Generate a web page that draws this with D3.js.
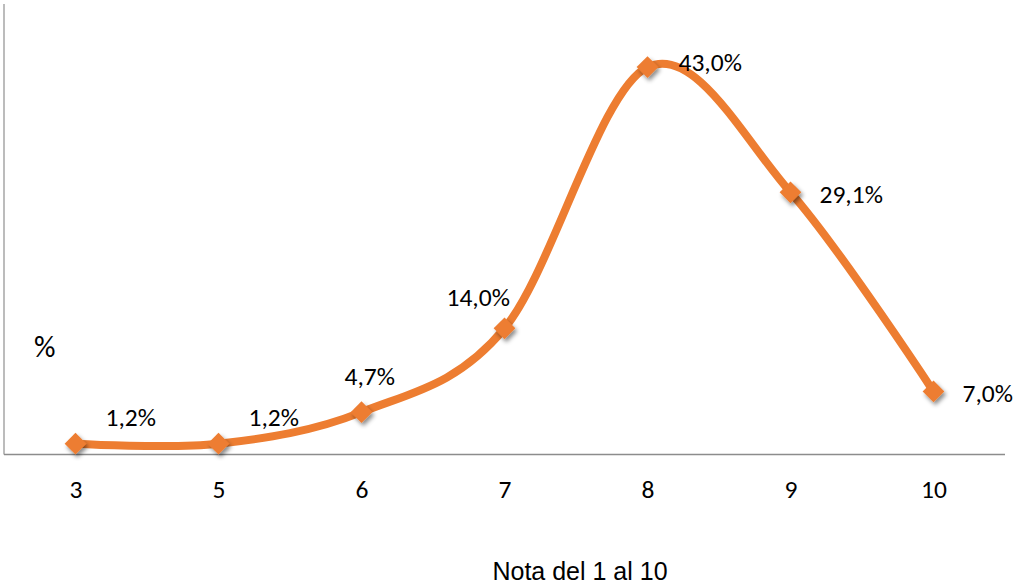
<!DOCTYPE html>
<html>
<head>
<meta charset="utf-8">
<script src="https://cdn.jsdelivr.net/npm/d3@7"></script>
<style>
  html, body { margin: 0; padding: 0; background: #fff; }
  svg { display: block; }
  .lbl { font-family: Carlito, Lato, "Open Sans", sans-serif; font-size: 25.5px; fill: #000; }
  .axis-title { font-family: "Liberation Sans", Arial, sans-serif; font-size: 25px; fill: #000; }
</style>
</head>
<body>
<svg id="chart" width="1014" height="586"></svg>
<script>
// Grades (1 to 10 scale) and share of responses in percent
const categories = ["3", "5", "6", "7", "8", "9", "10"];
const values = [1.2, 1.2, 4.7, 14.0, 43.0, 29.1, 7.0];
const valueLabels = ["1,2%", "1,2%", "4,7%", "14,0%", "43,0%", "29,1%", "7,0%"];
// Where each data label sits relative to its marker
const labelPlacement = ["aboveRight", "aboveRight", "above", "aboveLeft", "rightHigh", "right", "right"];
const yAxisLabel = "%";
const xAxisTitle = "Nota del 1 al 10";

const svg = d3.select("#chart");
const plot = { left: 4, right: 1005, top: 4, bottom: 454.5 };
const orange = "#ED7D31";

const x = d3.scalePoint().domain(categories).range([plot.left, plot.right]).padding(0.5);
const y = d3.scaleLinear().domain([0, 50]).range([plot.bottom, plot.top]);

// Soft drop shadow under the markers
const defs = svg.append("defs");
const f = defs.append("filter").attr("id", "mshadow")
  .attr("x", "-50%").attr("y", "-50%").attr("width", "200%").attr("height", "200%");
f.append("feDropShadow").attr("dx", 2).attr("dy", 3).attr("stdDeviation", 2)
  .attr("flood-color", "#000").attr("flood-opacity", 0.45);

// Axes: plain gray lines, no ticks
svg.append("line")
  .attr("x1", plot.left).attr("x2", plot.left)
  .attr("y1", plot.top).attr("y2", plot.bottom)
  .attr("stroke", "#a6a6a6").attr("stroke-width", 1.5);

const xAxis = d3.axisBottom(x).tickSize(0).tickPadding(35);
const gx = svg.append("g").attr("transform", `translate(0,${plot.bottom})`).call(xAxis);
gx.select(".domain").attr("d", `M${plot.left},0H${plot.right}`)
  .attr("stroke", "#8c8c8c").attr("stroke-width", 1.5);
gx.selectAll("text").attr("class", "lbl").attr("font-size", null).attr("font-family", null)
  .attr("fill", "#000").attr("dy", "0.35em");

// Smoothed series line
const pts = categories.map((c, i) => [x(c), y(values[i])]);
svg.append("path")
  .attr("d", d3.line().curve(d3.curveCatmullRom.alpha(0))(pts))
  .attr("fill", "none").attr("stroke", orange).attr("stroke-width", 8)
  .attr("stroke-linecap", "round").attr("stroke-linejoin", "round");

// Diamond markers
const diamond = d3.symbol().type(d3.symbolDiamond2).size(300);
svg.append("g").selectAll("path").data(pts).join("path")
  .attr("d", diamond)
  .attr("transform", d => `translate(${d[0]},${d[1]})`)
  .attr("fill", orange)
  .attr("filter", "url(#mshadow)");

// Data labels
const offsets = {
  aboveRight: { dx: 30, dy: -27 },
  above:      { dx: -17, dy: -36 },
  aboveLeft:  { dx: -58, dy: -31 },
  rightHigh:  { dx: 31, dy: -5 },
  right:      { dx: 29, dy: 2 }
};
svg.append("g").selectAll("text").data(pts).join("text")
  .attr("class", "lbl")
  .attr("x", (d, i) => d[0] + offsets[labelPlacement[i]].dx)
  .attr("y", (d, i) => d[1] + offsets[labelPlacement[i]].dy)
  .attr("dy", "0.35em")
  .text((d, i) => valueLabels[i]);

// Axis titles
svg.append("text").attr("class", "lbl").attr("x", 34).attr("y", 346).attr("dy", "0.35em")
  .style("font-size", "30px").text(yAxisLabel);
svg.append("text").attr("class", "axis-title")
  .attr("x", 580).attr("y", 580).attr("text-anchor", "middle")
  .text(xAxisTitle);
</script>
</body>
</html>
